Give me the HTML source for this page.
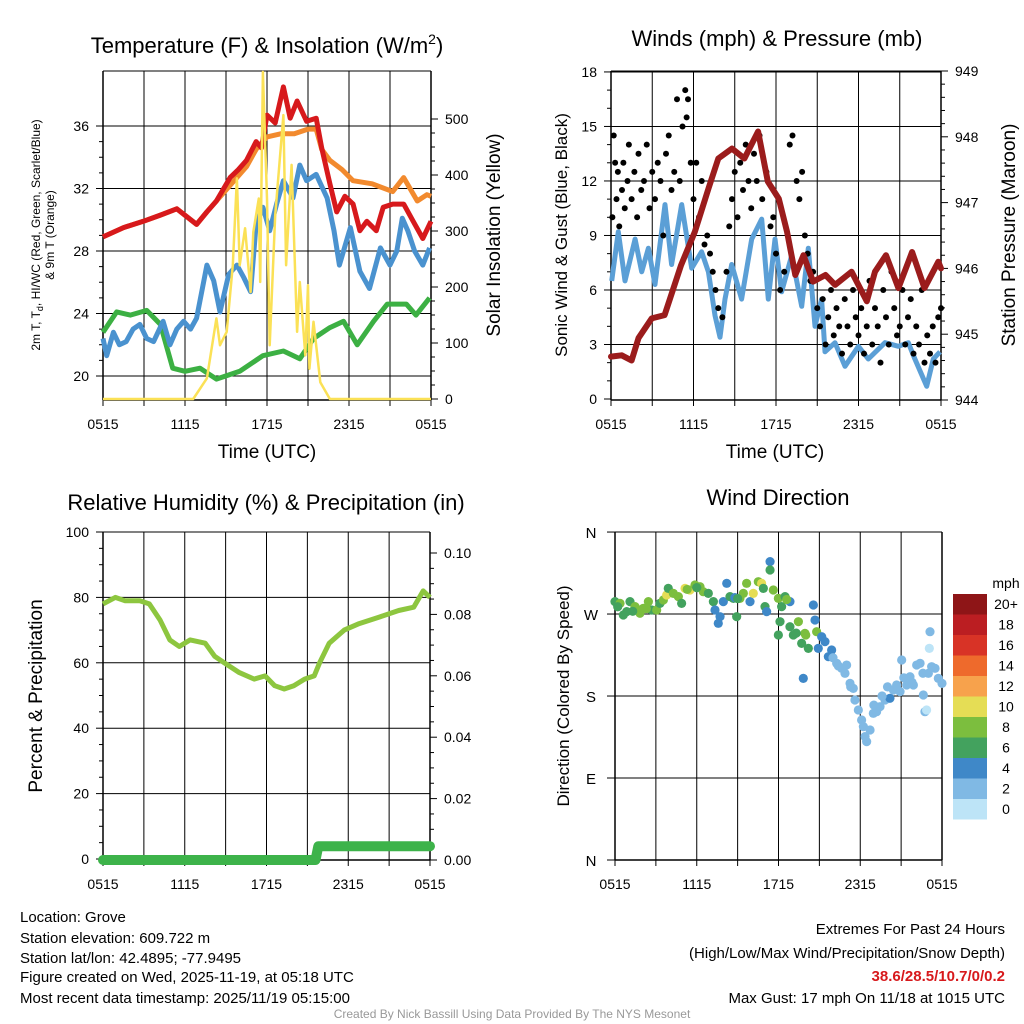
<!DOCTYPE html>
<html><head><meta charset="utf-8">
<style>
html,body{margin:0;padding:0;background:#fff;}
svg{display:block;font-family:"Liberation Sans",Arial,sans-serif;}
</style></head>
<body>
<svg id="chart" width="1024" height="1024" viewBox="0 0 1024 1024" xmlns="http://www.w3.org/2000/svg">
<rect x="0" y="0" width="1024" height="1024" fill="#fff"/>
<g id="g1"></g>
<g id="g2"></g>
<g id="g3"></g>
<g id="g4"></g>
<g font-size="15" fill="#000">
<text x="20" y="922">Location: Grove</text>
<text x="20" y="943">Station elevation: 609.722 m</text>
<text x="20" y="963">Station lat/lon: 42.4895; -77.9495</text>
<text x="20" y="982">Figure created on Wed, 2025-11-19, at 05:18 UTC</text>
<text x="20" y="1003">Most recent data timestamp: 2025/11/19 05:15:00</text>
<text x="1005" y="934" text-anchor="end">Extremes For Past 24 Hours</text>
<text x="1005" y="958" text-anchor="end">(High/Low/Max Wind/Precipitation/Snow Depth)</text>
<text x="1005" y="981" text-anchor="end" fill="#d7191c" font-weight="bold">38.6/28.5/10.7/0/0.2</text>
<text x="1005" y="1003" text-anchor="end">Max Gust: 17 mph On 11/18 at 1015 UTC</text>
<text x="512" y="1018" text-anchor="middle" fill="#999" font-size="12">Created By Nick Bassill Using Data Provided By The NYS Mesonet</text>
</g>
</svg>
<script>
// ---------- data ----------
const xTickLabels = ["0515","1115","1715","2315","0515"];
const tempTicks = [20,24,28,32,36];
const solarTicks = [0,100,200,300,400,500];
const windTicks = [0,3,6,9,12,15,18];
const presTicks = [944,945,946,947,948,949];
const rhTicks = [0,20,40,60,80,100];
const precipTicks = [0,0.02,0.04,0.06,0.08,0.10];
const dirTicks = [0,90,180,270,360];
const dirLabels = ["N","E","S","W","N"];

const redH = [0,1.5,2.95,4.2,5.4,6.85,7.6,8.3,9.3,9.9,10.5,11.2,11.6,12,12.6,13.2,13.7,14.2,14.9,15.6,16,16.6,17.1,17.7,18.3,18.8,19.3,20,20.5,21.2,22,22.7,23.4,24];
const redT = [28.9,29.5,29.9,30.3,30.7,29.7,30.5,31.2,32.7,33.2,33.8,35,34.6,36.7,36.2,38.5,36.5,37.6,36.3,36.5,34.6,32.3,30.5,31.5,31,29.3,29.9,29.3,30.8,31,31,29.9,28.8,29.9];
const orangeH = [0,1.5,2.95,4.2,5.4,6.85,7.6,8.3,9.3,9.9,10.5,11.2,12,13,14,15,15.6,16,16.6,17.5,18.3,19.7,21.2,22,23,23.7,24];
const orangeT = [28.9,29.5,29.9,30.3,30.7,29.7,30.5,31.2,32.2,32.8,33.4,34.5,35.3,35.5,35.5,35.8,35.8,34.5,33.8,33.2,32.5,32.3,31.8,32.7,31.2,31.6,31.5];
const blueH = [0,0.27,0.76,1.2,1.7,2.2,2.7,3.2,3.7,4.4,4.9,5.4,5.9,6.4,6.85,7.6,8.1,8.56,9.2,9.8,10.3,10.8,11.2,11.7,12.2,12.7,13.2,13.9,14.4,14.9,15.6,16.4,16.9,17.3,18.1,18.8,19.5,20.3,21,21.5,21.9,22.3,22.8,23.4,23.9];
const blueT = [22.4,21.3,22.8,22,22.2,23,23.3,22.4,22.2,23.5,22,23,23.5,23,23.7,27.1,26.1,24.1,26.5,27.1,26.3,25.4,29.7,30.8,29.3,31,32.5,31.4,33.5,32.5,32.9,31.4,29.3,27.1,29.5,26.7,25.6,28.2,27.1,28,30.1,29.3,28,27.1,28.2];
const greenH = [0,1,2,3.2,4.2,5.1,6,7.1,8.3,10,11.7,13.2,14.4,15.4,16.6,17.6,18.6,19.8,20.8,22.2,22.9,23.9];
const greenT = [22.8,24.1,23.9,24.2,23.3,20.5,20.3,20.5,19.8,20.3,21.3,21.6,21.1,22.4,23.1,23.5,22,23.5,24.6,24.6,23.9,25];
const solarH = [0,6.6,7.6,8.3,8.56,9.05,9.5,9.8,10,10.4,10.8,11,11.4,11.5,11.7,12,12.2,12.6,13.2,13.4,13.8,14.2,14.4,14.8,15,15.1,15.4,15.9,16.6,24];
const solarW = [0,0,37,144,96,120,239,394,239,305,191,298,358,209,584,358,96,328,507,239,418,120,209,78,203,54,138,30,0,0];

const windH = [0.05,0.53,1.02,1.75,2.23,2.72,3.2,3.93,4.41,5.14,5.87,6.59,7.08,7.56,7.93,8.29,8.78,9.5,10.23,10.96,11.44,11.93,12.41,13.14,13.87,14.35,14.84,15.32,15.56,16.29,17.02,17.99,18.71,19.93,20.9,21.62,22.1,22.96,23.44,23.93];
const windV = [6.5,9.2,6.5,8.8,7,8.3,6.3,10.7,7.4,10.7,7.2,8.1,7,4.6,3.4,5.5,7.4,5.5,8.8,9.9,5.5,8.8,5.9,7.9,5.1,8.3,4,5.5,2.6,3.1,1.8,2.9,2.2,3.1,2.9,3.1,2.2,0.7,2.2,2.6];
const gustH = [0.1,0.2,0.3,0.4,0.5,0.6,0.8,0.9,1.0,1.2,1.3,1.5,1.7,1.9,2.0,2.2,2.4,2.6,2.8,3.0,3.2,3.4,3.6,3.8,4.0,4.2,4.4,4.6,4.8,5.0,5.2,5.4,5.5,5.6,5.8,6.0,6.2,6.4,6.6,6.8,7.0,7.2,7.4,7.6,7.8,8.1,8.4,8.6,8.8,9.0,9.2,9.4,9.6,9.8,10.0,10.2,10.4,10.6,10.8,11.0,11.3,11.6,11.8,12.0,12.3,12.6,13.0,13.2,13.5,13.7,13.9,14.1,14.3,14.5,14.7,15.0,15.2,15.4,15.6,15.8,16.0,16.2,16.4,16.6,16.8,17.0,17.2,17.4,17.6,17.8,18.0,18.2,18.4,18.6,18.8,19.0,19.2,19.4,19.6,19.8,20.0,20.2,20.4,20.6,20.8,21.0,21.2,21.4,21.6,21.8,22.0,22.2,22.4,22.6,22.8,23.0,23.2,23.4,23.6,23.8,24];
const gustV = [10,14.5,13,11,12.5,9.5,11.5,13,10.5,12,14,11,12.5,10,13.5,11.5,12,14,10.5,12.5,11,13,12,9,13.5,14.5,11.5,12.5,16.5,12,15,17,15.5,16.5,13,11,13,10,12,8.5,9,8,7,6,5,4.5,7,9.5,11,12.5,10,13,11.5,14,12,10.5,13.5,12,14.5,11,12.5,9.5,10,8,6,7,14,14.5,12,11,12.5,9,8,6.5,7,5,4,5.5,3,4.5,6,3.5,5,4,2.5,5.5,4,3,6,4.5,3.5,5,2.5,4,6.5,3,5,4,2,6,4.5,3,7,5,3.5,4,6,3,4.5,5.5,2.5,4,3,6,2,3.5,2.5,4,2,4.5,5];
const presH = [0,0.78,1.5,2,2.96,3.9,5.1,6.1,7.1,7.8,8.8,9.7,10.7,11.4,12.2,12.8,13.4,14,14.7,15.6,16.3,17.5,18.6,19.2,20,20.9,21.9,22.8,23.8,24];
const presP = [944.66,944.68,944.6,944.94,945.24,945.29,946.05,946.56,947.22,947.67,947.82,947.67,948.08,947.32,947.06,946.56,945.9,946.2,945.8,945.9,945.75,945.95,945.5,945.95,946.2,945.7,946.25,945.7,946.1,946];

const rhH = [0,0.9,1.6,2.7,3.4,4.2,4.9,5.6,6.4,7.5,8.2,8.9,10,11.1,11.9,12.6,13.3,14,14.8,15.5,15.9,16.6,17.7,18.8,20.3,21.7,22.8,23.5,24];
const rhV = [78,80,79,79,78,73,67,65,67,66,62,60,57,55,56,53,52,53,55,56,60,66,70,72,74,76,77,82,80];
const precipH = [0,15.6,15.8,24];
const precipV = [0,0,0.0045,0.0045];

const dirH = [0,0.37,0.61,0.86,1.1,1.47,1.83,2.08,2.45,2.69,3.06,3.3,3.55,3.79,3.91,4.28,4.65,4.89,5.14,5.5,5.87,6.24,6.48,6.85,7.22,7.34,7.58,7.71,7.95,8.2,8.44,8.69,8.93,9.17,9.42,9.66,9.91,10.15,10.52,10.76,10.89,11.01,11.13,11.38,11.38,11.62,11.99,12.11,11.99,12.23,12.48,12.84,12.84,13.09,13.46,13.7,13.82,13.94,14.19,14.56,14.68,14.8,14.92,15.17,15.41,15.66,15.9,16.27,16.64,16.88,17,17.25,17.49,17.61,17.86,18.1,18.23,18.35,18.47,18.72,18.96,19.2,19.45,19.82,20.18,20.43,20.67,20.92,21.04,21.41,21.65,21.9,22.14,22.39,22.63,22.75,22.87,23,23.12,23.07,23.24,23.49,23.73,24,0.2,1.3,2.3,5.3,6.0,8.8,9.0,12.6,13.3,14.0,16.4,16.0,17.3,19.0,19.6,20.0,21.2,21.8,22.6];
const dirDeg = [283.6,281.7,268.9,272.6,283.6,278.1,270.8,276.3,283.6,274.4,274.4,281.7,285.4,290.9,298.2,292.7,289.1,281.7,298.2,296.4,301.9,300,294.5,292.7,283.6,274.4,259.8,267.1,283.6,303.7,289.1,287.2,267.1,287.2,292.7,303.7,283.6,292.7,305.5,303.7,298.2,278.1,272.6,327.5,318.3,296.4,287.2,261.6,247,278.1,289.1,283.6,256.1,247,261.6,237.8,199.4,248.8,232.3,279.9,263.4,250.6,232.3,245.1,239.7,223.2,230.5,215.9,210.4,204.9,214,193.9,188.4,175.6,164.7,153.7,146.4,135.4,129.9,142.7,161,162.8,168.3,175.6,177.5,186.6,192.1,184.8,219.5,192.1,201.2,192.1,214,215.9,181.1,162.8,164.7,204.9,250.6,232.3,212.2,210.4,199.4,193.9,278,273,276,297,299,288,287,286,249,247,213,222,190,170,180,190,200,195,205];
const dirSpd = [7,9,7,7,7,9,9,9,9,7,9,7,9,10.5,7,9,9,7,10.5,10.5,9,9,9,7,7,5,5,5,5,5,7,7,7,9,9,9,5,10.5,9,10.5,7,7,5,5,7,9,9,7,7,7,7,5,7,7,9,7,5,9,7,5,5,9,5,5,5,5,5,3,3,3,3,3,3,3,3,3,3,3,3,3,3,3,3,3,5,3,3,3,3,3,3,3,3,3,3,3,1,3,3,1,3,3,3,3,7,7,9,9,7,5,7,9,7,9,3,3,3,3,3,3,3,3,3];
const speedBins = ["0","2","4","6","8","10","12","14","16","18","20+"];
const speedColors = ["#bde4f7","#80b9e4","#3f88c8","#43a25e","#7cbe3e","#e5dd55","#f7a24c","#ee6a2c","#d83326","#bb1e22","#8e1517"];

// ---------- helpers ----------
const NS = "http://www.w3.org/2000/svg";
function mk(tag, attrs, parent){
  const e = document.createElementNS(NS, tag);
  for (const k in attrs) e.setAttribute(k, attrs[k]);
  parent.appendChild(e);
  return e;
}
function txt(parent, x, y, s, size, anchor, extra){
  const t = mk("text", Object.assign({x:x, y:y, "font-size":size, "text-anchor":anchor||"start", fill:"#000"}, extra||{}), parent);
  t.textContent = s;
  return t;
}
function pathD(hs, vs, fx, fy){
  let d = "";
  for (let i=0;i<hs.length;i++) d += (i?"L":"M") + fx(hs[i]).toFixed(1) + "," + fy(vs[i]).toFixed(1);
  return d;
}
function frame(g, x0, x1, y0, y1, vgrid, hgridYs){
  for (const yy of hgridYs){
    const l = mk("line",{x1:x0,x2:x1,y1:yy,y2:yy,stroke:"#000","stroke-width":1},g);
    
    
  }
  for (let h=3; h<24; h+=3){
    const x = vgrid(h);
    const l = mk("line",{x1:x,x2:x,y1:y0,y2:y1,stroke:"#000","stroke-width":1},g);
    
    
  }
  for (let h=0; h<=24; h+=3){
    const x = vgrid(h);
    const l = mk("line",{x1:x,x2:x,y1:y1,y2:y1+6,stroke:"#000","stroke-width":1},g);
    
    
  }
  const tp = mk("line",{x1:x0,x2:x1,y1:y0,y2:y0,stroke:"#000","stroke-width":1},g);
  
  
  const b = mk("line",{x1:x0,x2:x1,y1:y1,y2:y1,stroke:"#000","stroke-width":1.5},g);
  
  
  const la = mk("line",{x1:x0,x2:x0,y1:y0,y2:y1,stroke:"#000","stroke-width":1.5},g);
  
  
  const ra = mk("line",{x1:x1,x2:x1,y1:y0,y2:y1,stroke:"#000","stroke-width":1.5},g);
  
  
  xTickLabels.forEach((s,i)=>{
    const t = txt(g, vgrid(i*6), y1+29, s, 14, "middle");
    
    
  });
}
function yTicks(g, x, ticks, fy, side, fmt, minorPer){
  const dir = side==="left" ? -1 : 1;
  for (let i=0;i<ticks.length;i++){
    const y = fy(ticks[i]);
    const l = mk("line",{x1:x,x2:x+dir*7,y1:y,y2:y,stroke:"#000","stroke-width":1},g);
    
    
    const t = txt(g, x+dir*14, y+5, fmt(ticks[i]), 14, side==="left"?"end":"start");
    
    
    if (i<ticks.length-1){
      for (let m=1;m<=minorPer;m++){
        const v = ticks[i] + (ticks[i+1]-ticks[i])*m/(minorPer+1);
        const ml = mk("line",{x1:x,x2:x+dir*4,y1:fy(v),y2:fy(v),stroke:"#000","stroke-width":1},g);
        
        
      }
    }
  }
}

// ---------- panel 1 ----------
const g1 = document.getElementById("g1");
const x1s = h => 103 + h*328/24;
const yT = t => 376 - (t-20)*62.5/4;
const yS = s => 399 - s*0.56;
frame(g1, 103, 431, 71, 400, x1s, tempTicks.map(yT));
yTicks(g1, 103, tempTicks, yT, "left", v=>String(v), 3);
yTicks(g1, 431, solarTicks, yS, "right", v=>String(v), 3);
let p;
p = mk("path",{d:pathD(greenH,greenT,x1s,yT),fill:"none",stroke:"#3cb043","stroke-width":5,"stroke-linejoin":"round"},g1);


p = mk("path",{d:pathD(blueH,blueT,x1s,yT),fill:"none",stroke:"#4a92cf","stroke-width":5,"stroke-linejoin":"round"},g1);


p = mk("path",{d:pathD(orangeH,orangeT,x1s,yT),fill:"none",stroke:"#f28a2e","stroke-width":5,"stroke-linejoin":"round"},g1);


p = mk("path",{d:pathD(redH,redT,x1s,yT),fill:"none",stroke:"#d7191c","stroke-width":5,"stroke-linejoin":"round"},g1);


p = mk("path",{d:pathD(solarH,solarW,x1s,yS),fill:"none",stroke:"#fbe156","stroke-width":2.5,"stroke-linejoin":"round"},g1);


let t;
t = mk("text",{x:267,y:53,"font-size":22,"text-anchor":"middle"},g1);
t.innerHTML = 'Temperature (F) &amp; Insolation (W/m<tspan font-size="14" dy="-9">2</tspan><tspan dy="9">)</tspan>';


t = txt(g1, 267, 458, "Time (UTC)", 19, "middle");


t = mk("text",{x:0,y:0,"font-size":12,"text-anchor":"middle",transform:"translate(40,235) rotate(-90)"},g1);
t.innerHTML = '2m T, T<tspan font-size="9" dy="3">d</tspan><tspan dy="-3">, HI/WC (Red, Green, Scarlet/Blue)</tspan>';


t = txt(g1, 0, 0, "& 9m T (Orange)", 12, "middle", {transform:"translate(54,235) rotate(-90)"});


t = txt(g1, 0, 0, "Solar Insolation (Yellow)", 19, "middle", {transform:"translate(500,235) rotate(-90)"});



// ---------- panel 2 ----------
const g2 = document.getElementById("g2");
const x2s = h => 611 + h*330/24;
const yW = v => 399 - v*18.17;
const yP = v => 400 - (v-944)*65.8;
frame(g2, 611, 941, 71, 400, x2s, windTicks.slice(1).map(yW));
yTicks(g2, 611, windTicks, yW, "left", v=>String(v), 2);
yTicks(g2, 941, presTicks, yP, "right", v=>String(v), 4);
p = mk("path",{d:pathD(windH,windV,x2s,yW),fill:"none",stroke:"#5b9fd6","stroke-width":5,"stroke-linejoin":"round"},g2);


for (let i=0;i<gustH.length;i++){
  const c = mk("circle",{cx:x2s(gustH[i]),cy:yW(gustV[i]),r:3,fill:"#000"},g2);
  
  
}
p = mk("path",{d:pathD(presH,presP,x2s,yP),fill:"none",stroke:"#9b1c1c","stroke-width":6,"stroke-linejoin":"round","stroke-linecap":"round"},g2);


t = txt(g2, 777, 46, "Winds (mph) & Pressure (mb)", 22, "middle");


t = txt(g2, 775, 458, "Time (UTC)", 19, "middle");


t = txt(g2, 0, 0, "Sonic Wind & Gust (Blue, Black)", 17, "middle", {transform:"translate(567,235) rotate(-90)"});


t = txt(g2, 0, 0, "Station Pressure (Maroon)", 19, "middle", {transform:"translate(1015,235) rotate(-90)"});



// ---------- panel 3 ----------
const g3 = document.getElementById("g3");
const x3s = h => 103 + h*327/24;
const yR = v => 859 - v*3.27;
const yPr = v => 860 - v*3070;
frame(g3, 103, 430, 532, 860, x3s, rhTicks.slice(1).map(yR));
yTicks(g3, 103, rhTicks, yR, "left", v=>String(v), 3);
yTicks(g3, 430, precipTicks, yPr, "right", v=>v.toFixed(2), 3);
p = mk("path",{d:pathD(rhH,rhV,x3s,yR),fill:"none",stroke:"#8dc63f","stroke-width":5,"stroke-linejoin":"round"},g3);


p = mk("path",{d:pathD(precipH,precipV,x3s,yPr),fill:"none",stroke:"#3db34a","stroke-width":10,"stroke-linejoin":"round","stroke-linecap":"round"},g3);


t = txt(g3, 266, 510, "Relative Humidity (%) & Precipitation (in)", 22, "middle");


t = txt(g3, 0, 0, "Percent & Precipitation", 19, "middle", {transform:"translate(42,696) rotate(-90)"});



// ---------- panel 4 ----------
const g4 = document.getElementById("g4");
const x4s = h => 615 + h*327/24;
const yD = d => 860 - d*0.911;
frame(g4, 615, 942, 532, 860, x4s, dirTicks.map(yD));
dirTicks.forEach((d,i)=>{
  const l = mk("line",{x1:607,x2:615,y1:yD(d),y2:yD(d),stroke:"#000","stroke-width":1},g4);
  
  
  const tt = txt(g4, 591, yD(d)+6, dirLabels[i], 15, "middle");
  
  
});
for (let i=0;i<dirH.length;i++){
  const bin = Math.min(10, Math.floor(dirSpd[i]/2));
  const c = mk("circle",{cx:x4s(dirH[i]),cy:yD(dirDeg[i]),r:4.6,fill:speedColors[bin]},g4);
  
  
}
t = txt(g4, 778, 505, "Wind Direction", 22, "middle");


t = txt(g4, 0, 0, "Direction (Colored By Speed)", 17, "middle", {transform:"translate(569,696) rotate(-90)"});


t = txt(g4, 1006, 588, "mph", 14, "middle");


for (let i=0;i<speedBins.length;i++){
  const idx = speedBins.length-1-i;
  const y = 594 + i*20.5;
  const r = mk("rect",{x:953,y:y,width:34,height:20.5,fill:speedColors[idx]},g4);
  
  
  const tt = txt(g4, 1006, y+15, speedBins[idx], 14, "middle");
  
  
}
</script>
</body></html>
